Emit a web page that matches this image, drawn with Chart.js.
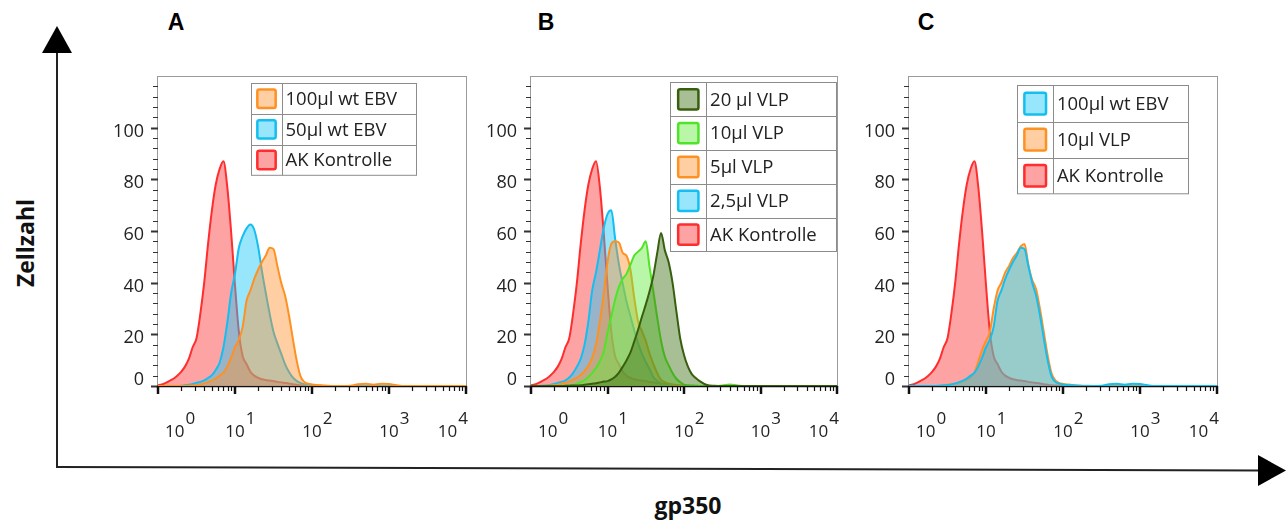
<!DOCTYPE html>
<html>
<head>
<meta charset="utf-8">
<title>gp350 Histogramme</title>
<script src="https://cdn.jsdelivr.net/npm/chart.js@4.4.1/dist/chart.umd.min.js"></script>
<style>
  html, body { margin: 0; padding: 0; background: #fff; }
  #page { position: relative; width: 1286px; height: 522px; overflow: hidden; background: #fff; }
  #page canvas, #page svg { position: absolute; top: 0; }
  #page svg { left: 0; }
</style>
</head>
<body>
<div id="page">
  <svg width="1286" height="522" font-family="'Open Sans', sans-serif">
    <line x1="57" y1="50" x2="57" y2="468" stroke="#222" stroke-width="2"/>
    <polygon points="57,26 42,53 72,53" fill="#000"/>
    <line x1="56" y1="467" x2="1260" y2="470.5" stroke="#222" stroke-width="2"/>
    <polygon points="1286,470.5 1258,455 1258,486" fill="#000"/>
    <text transform="translate(34,243) rotate(-90)" text-anchor="middle" font-weight="700" font-size="23" fill="#111">Zellzahl</text>
    <text x="688" y="514" text-anchor="middle" font-weight="700" font-size="23" fill="#111">gp350</text>
    <g font-family="'Liberation Sans', Arial, sans-serif" font-weight="700" font-size="23" fill="#000" text-anchor="middle">
      <text x="176" y="30">A</text>
      <text x="546" y="30">B</text>
      <text x="926" y="30">C</text>
    </g>
  </svg>
  <canvas id="panelA" width="380" height="450" style="left:95px"></canvas>
  <canvas id="panelB" width="378" height="450" style="left:470px"></canvas>
  <canvas id="panelC" width="378" height="450" style="left:850px"></canvas>
</div>
<script>
// gp350 fluorescence, position in decades (value = 10^d)
const decades = [
  0, 0.05, 0.1, 0.15, 0.2, 0.25, 0.3, 0.35, 0.4, 0.45,
  0.5, 0.55, 0.6, 0.65, 0.7, 0.75, 0.8, 0.85, 0.9, 0.95,
  1, 1.05, 1.1, 1.15, 1.2, 1.25, 1.3, 1.35, 1.4, 1.45,
  1.5, 1.55, 1.6, 1.65, 1.7, 1.75, 1.8, 1.85, 1.9, 1.95,
  2, 2.05, 2.1, 2.15, 2.2, 2.3, 2.4, 2.5, 2.6, 2.7,
  2.8, 2.9, 3, 3.1, 3.2, 3.5, 4
];

// cell counts per histogram
const akKontrolle = [
  0.3, 0.6, 1.2, 2, 2.8, 4, 5.5, 7.5, 10.5, 15,
  18.5, 28, 40, 55, 68, 78, 84, 87, 77, 59.5,
  39, 21, 11.5, 8.5, 5.5, 4, 3.2, 2.6, 2.3, 2.1,
  1.9, 1.6, 1.4, 1.2, 1, 0.7, 0.5, 0.3, 0.2, 0.1,
  0.1, 0, 0, 0, 0, 0, 0, 0, 0, 0,
  0, 0, 0, 0, 0, 0, 0
];
const wtEbv100 = [
  0, 0, 0, 0, 0, 0, 0, 0, 0.1, 0.2,
  0.3, 0.6, 1, 1.5, 2.1, 2.9, 4, 5.2, 7.6, 11,
  15, 18, 23, 33, 37, 41.5, 45, 48, 50.5, 53.5,
  53, 46.5, 40, 35, 27.5, 18.5, 10, 3.8, 1.6, 0.9,
  0.6, 0.4, 0.3, 0.2, 0.1, 0, 0, 0.1, 0.7, 0.9,
  0.5, 0.9, 0.8, 0.3, 0, 0, 0
];
const wtEbv50 = [
  0, 0, 0, 0, 0, 0, 0.1, 0.3, 0.5, 0.8,
  1.2, 1.6, 2.2, 3.1, 4.2, 6.2, 9, 15, 24.5, 36,
  43.5, 53.5, 58, 61, 62.5, 60.5, 54, 44.5, 36, 28,
  21, 16.5, 12.5, 8.5, 5.5, 3.3, 2, 1.2, 0.7, 0.4,
  0.3, 0.2, 0.1, 0, 0, 0, 0, 0, 0, 0,
  0, 0, 0, 0, 0, 0, 0
];
const vlp20 = [
  0, 0, 0, 0, 0, 0, 0, 0, 0, 0.1,
  0.1, 0.2, 0.2, 0.3, 0.5, 0.7, 0.9, 1.1, 1.4, 1.7,
  1.9, 2.6, 3.6, 5.2, 7.5, 10, 13, 17.3, 21.8, 26.8,
  31.5, 36.7, 42.8, 51.5, 59.2, 52.5, 47.8, 40, 29, 18.5,
  12, 7.6, 4.7, 3.2, 2, 0.4, 0.1, 0, 0, 0,
  0, 0, 0, 0, 0, 0, 0
];
const vlp10 = [
  0, 0, 0, 0, 0, 0, 0, 0, 0.1, 0.1,
  0.2, 0.4, 0.9, 1.5, 2.3, 3.5, 5, 7, 9.5, 13.2,
  20.5, 27, 33.5, 38.5, 41.5, 43.5, 47, 50.5, 52, 53.5,
  56, 46, 36.5, 26.5, 17.5, 11.3, 8, 5, 2.8, 1.5,
  0.5, 0.3, 0.2, 0.1, 0, 0, 0, 0.2, 0.6, 0.2,
  0, 0, 0, 0, 0, 0, 0
];
const vlp5 = [
  0, 0, 0, 0, 0.1, 0.2, 0.3, 0.5, 0.9, 1.3,
  1.8, 2.5, 3.2, 4.3, 5.8, 7.8, 11, 16, 25, 35.5,
  48, 55, 56, 55.5, 51.5, 50.3, 45, 34, 25, 21.2,
  17.5, 12.5, 8.5, 5, 2.4, 1.5, 0.9, 0.6, 0.4, 0.2,
  0.1, 0, 0, 0, 0, 0, 0, 0, 0, 0,
  0, 0, 0, 0, 0, 0, 0
];
const vlp25 = [
  0, 0, 0, 0.1, 0.2, 0.4, 0.8, 1.2, 1.6, 2.2,
  3.3, 5, 7.5, 10.5, 16, 25, 37, 44, 52.5, 61,
  66.5, 68, 57, 47, 39.5, 32.5, 27, 21.5, 16.5, 12.5,
  9.3, 6.5, 3.4, 2, 0.9, 0.5, 0.3, 0.2, 0.1, 0,
  0, 0, 0, 0, 0, 0, 0, 0, 0, 0,
  0, 0, 0, 0, 0, 0, 0
];
const vlp10C = [
  0, 0, 0, 0, 0, 0, 0, 0, 0.1, 0.3,
  0.5, 0.7, 0.9, 1.1, 1.7, 2.3, 3.3, 5.2, 9.5, 14,
  17.5, 21, 30, 37, 40, 44, 46.5, 49.5, 51.5, 54,
  55, 47, 41, 37.5, 30, 21, 12, 5, 2.2, 1.2,
  0.8, 0.6, 0.5, 0.3, 0.2, 0.1, 0, 0, 0.2, 0.3,
  0.2, 0.1, 0, 0, 0, 0, 0
];

// axis ticks
const countTicks = [0, 20, 40, 60, 80, 100];
const countMax = 120;
const decadeTicks = [0, 1, 2, 3, 4];

const colors = {
  red:        { line: 'rgb(255, 45, 45)',  fill: 'rgba(250, 55, 55, 0.46)' },
  cyan:       { line: 'rgb(20, 190, 240)', fill: 'rgba(30, 200, 248, 0.46)' },
  orange:     { line: 'rgb(255, 145, 35)', fill: 'rgba(255, 145, 45, 0.44)' },
  lightGreen: { line: 'rgb(80, 228, 40)',  fill: 'rgba(95, 235, 55, 0.44)' },
  darkGreen:  { line: 'rgb(55, 95, 15)',   fill: 'rgba(65, 115, 25, 0.46)' }
};

const FONT = '"Open Sans", sans-serif';

function series(label, values, color) {
  return {
    label,
    data: decades.map((d, i) => ({ x: Math.pow(10, d), y: values[i] })),
    borderColor: color.line,
    backgroundColor: color.fill,
    borderWidth: 2,
    fill: 'origin',
    pointRadius: 0,
    cubicInterpolationMode: 'monotone'
  };
}

// frame, FlowJo-style axes and the boxed legend
const panelFrame = {
  id: 'panelFrame',
  beforeDatasetsDraw(chart) {
    const { ctx, chartArea: a } = chart;
    ctx.save();
    ctx.strokeStyle = '#9a9a9a';
    ctx.lineWidth = 1;
    ctx.strokeRect(a.left - 0.5, a.top + 0.5, a.right - a.left + 1, a.bottom - a.top);
    ctx.strokeStyle = '#111';
    ctx.lineWidth = 1.5;
    ctx.beginPath();
    ctx.moveTo(a.left - 1, a.bottom + 0.5);
    ctx.lineTo(a.right + 1, a.bottom + 0.5);
    ctx.stroke();
    ctx.restore();
  },
  afterDatasetsDraw(chart, args, opts) {
    const { ctx, chartArea: a } = chart;
    const xs = chart.scales.x, ys = chart.scales.y;
    ctx.save();

    // count axis
    ctx.strokeStyle = '#333';
    for (let v = 0; v < countMax; v += 4) {
      const py = Math.round(ys.getPixelForValue(v)) + 0.5;
      const major = countTicks.includes(v);
      ctx.lineWidth = major ? 2 : 1;
      ctx.beginPath();
      ctx.moveTo(a.left - (major ? 7 : 5), py);
      ctx.lineTo(a.left, py);
      ctx.stroke();
    }
    ctx.fillStyle = '#222';
    ctx.font = '18px ' + FONT;
    ctx.textAlign = 'right';
    ctx.textBaseline = 'middle';
    countTicks.forEach(v => {
      const py = ys.getPixelForValue(v);
      ctx.fillText(String(v), a.left - 14, py + (v === 0 ? -6 : 4));
    });

    // log axis
    ctx.strokeStyle = '#111';
    decadeTicks.forEach(n => {
      const px = Math.round(xs.getPixelForValue(Math.pow(10, n)));
      ctx.lineWidth = 2.5;
      ctx.beginPath();
      ctx.moveTo(px, a.bottom);
      ctx.lineTo(px, a.bottom + 8);
      ctx.stroke();
      if (n === decadeTicks[decadeTicks.length - 1]) return;
      ctx.lineWidth = 1.2;
      for (let k = 2; k <= 9; k++) {
        const mx = Math.round(xs.getPixelForValue(k * Math.pow(10, n))) + 0.5;
        ctx.beginPath();
        ctx.moveTo(mx, a.bottom);
        ctx.lineTo(mx, a.bottom + 5);
        ctx.stroke();
      }
    });
    ctx.font = '17px ' + FONT;
    ctx.textAlign = 'left';
    ctx.textBaseline = 'alphabetic';
    decadeTicks.forEach(n => {
      const px = xs.getPixelForValue(Math.pow(10, n));
      const base = ctx.measureText('10').width;
      const sup = ctx.measureText(String(n)).width;
      let start = px - base / 2;
      if (start < a.left + 7) start = a.left + 7;
      if (start + base + sup > a.right + 1) start = a.right + 1 - base - sup;
      ctx.fillText('10', start, a.bottom + 51);
      ctx.fillText(String(n), start + base + 1, a.bottom + 38);
    });

    // legend table
    const L = opts.legend;
    const items = chart.data.datasets;
    const lx = Math.round(a.left + L.x) + 0.5;
    const ly = Math.round(a.top + L.y) + 0.5;
    const h = L.row * items.length;
    ctx.fillStyle = '#fff';
    ctx.fillRect(lx, ly, L.width, h);
    ctx.strokeStyle = '#8c8c8c';
    ctx.lineWidth = 1;
    ctx.strokeRect(lx, ly, L.width, h);
    ctx.beginPath();
    ctx.moveTo(Math.round(lx + L.col) + 0.5, ly);
    ctx.lineTo(Math.round(lx + L.col) + 0.5, ly + h);
    for (let i = 1; i < items.length; i++) {
      const ry = Math.round(ly + i * L.row) + 0.5;
      ctx.moveTo(lx, ry);
      ctx.lineTo(lx + L.width, ry);
    }
    ctx.stroke();

    ctx.font = '18.5px ' + FONT;
    ctx.textBaseline = 'middle';
    items.forEach((ds, i) => {
      const cy = ly + i * L.row + L.row / 2;
      const cx = lx + L.col / 2;
      const s = L.row * 0.6;
      ctx.beginPath();
      ctx.roundRect(cx - s / 2, cy - s / 2, s, s, 2);
      ctx.fillStyle = '#fff';
      ctx.fill();
      ctx.fillStyle = ds.backgroundColor;
      ctx.fill();
      ctx.strokeStyle = ds.borderColor;
      ctx.lineWidth = 2.5;
      ctx.stroke();
      ctx.fillStyle = '#222';
      ctx.fillText(ds.label, lx + L.col + 4, cy + 1);
    });
    ctx.restore();
  }
};

function panel(id, datasets, padding, legend) {
  return new Chart(document.getElementById(id), {
    type: 'line',
    data: { datasets },
    plugins: [panelFrame],
    options: {
      responsive: false,
      animation: false,
      events: [],
      devicePixelRatio: 1,
      layout: { padding },
      scales: {
        x: { type: 'logarithmic', min: 1, max: 10000, display: false },
        y: { type: 'linear', min: 0, max: countMax, display: false }
      },
      plugins: {
        legend: { display: false },
        tooltip: { enabled: false },
        panelFrame: { legend }
      }
    }
  });
}

// first dataset is drawn on top
panel('panelA', [
  series('100µl wt EBV', wtEbv100, colors.orange),
  series('50µl wt EBV', wtEbv50, colors.cyan),
  series('AK Kontrolle', akKontrolle, colors.red)
], { left: 63, right: 9, top: 76, bottom: 64 },
   { x: 93, y: 7, width: 165, row: 30.6, col: 30 });

panel('panelB', [
  series('20 µl VLP', vlp20, colors.darkGreen),
  series('10µl VLP', vlp10, colors.lightGreen),
  series('5µl VLP', vlp5, colors.orange),
  series('2,5µl VLP', vlp25, colors.cyan),
  series('AK Kontrolle', akKontrolle, colors.red)
], { left: 61, right: 11, top: 76, bottom: 64 },
   { x: 139, y: 6, width: 166, row: 33.8, col: 35.6 });

panel('panelC', [
  series('100µl wt EBV', wtEbv100, colors.cyan),
  series('10µl VLP', vlp10C, colors.orange),
  series('AK Kontrolle', akKontrolle, colors.red)
], { left: 59, right: 11, top: 76, bottom: 64 },
   { x: 108, y: 9, width: 171, row: 36.1, col: 35.4 });
</script>
</body>
</html>
